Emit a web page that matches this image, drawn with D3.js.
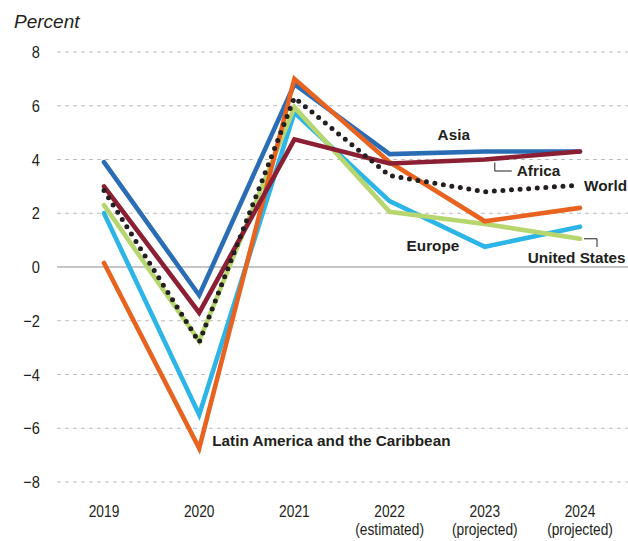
<!DOCTYPE html>
<html>
<head>
<meta charset="utf-8">
<script src="https://cdn.jsdelivr.net/npm/d3@7"></script>
<style>
  body { margin: 0; background: #fff; }
  svg text { fill: #231f20; }
  .tick-label { font-family: "Liberation Sans", Arial, sans-serif; font-size: 16px; }
  .series-label { font-family: "Liberation Sans", Arial, sans-serif; font-size: 15.3px; font-weight: 600; }
</style>
</head>
<body>
<div id="viz"></div>
<script>
var w = 628;
var h = 541;

var years = ["2019", "2020", "2021", "2022", "2023", "2024"];
var yearNotes = ["", "", "", "(estimated)", "(projected)", "(projected)"];
var yTicks = [-8, -6, -4, -2, 0, 2, 4, 6, 8];

var asia = [3.9, -1.05, 6.8, 4.2, 4.3, 4.3];
var europe = [2.0, -5.5, 5.75, 2.45, 0.75, 1.5];
var usa = [2.3, -2.75, 5.95, 2.05, 1.6, 1.05];
var latAm = [0.15, -6.75, 7.0, 3.9, 1.7, 2.2];
var africa = [3.0, -1.7, 4.75, 3.85, 4.0, 4.3];
var world = [2.85, -2.8, 6.3, 3.4, 2.8, 3.05];

var seriesNames = ["Asia", "Europe", "United States", "Latin America and the Caribbean", "Africa", "World"];
var seriesValues = [asia, europe, usa, latAm, africa, world];
var seriesColors = ["#2a6db5", "#2db5e8", "#b7d66f", "#e8631f", "#8b1f33", "#231f20"];

var narrow = 0.86; // condensed look for axis text

var x = d3.scalePoint()
    .domain(years)
    .range([104, 580]);

var y = d3.scaleLinear()
    .domain([-8, 8])
    .range([482, 52]);

var svg = d3.select("#viz")
    .append("svg")
    .attr("width", w)
    .attr("height", h);

// y axis label
svg.append("text")
    .attr("x", 14)
    .attr("y", 28)
    .style("font-family", "'Liberation Sans', Arial, sans-serif")
    .style("font-size", "19px")
    .style("font-style", "italic")
    .text("Percent");

// grid
var grid = svg.append("g").attr("class", "grid");

grid.selectAll("line")
    .data(yTicks)
    .enter()
    .append("line")
    .attr("x1", 57)
    .attr("x2", w)
    .attr("y1", function (d) { return y(d); })
    .attr("y2", function (d) { return y(d); })
    .attr("stroke", function (d) { return d == 0 ? "#b3b3b3" : "#bdbdbd"; })
    .attr("stroke-width", function (d) { return d == 0 ? 1.6 : 1.1; })
    .attr("stroke-dasharray", function (d) { return d == 0 ? null : "4,4"; });

grid.selectAll("text")
    .data(yTicks)
    .enter()
    .append("text")
    .attr("class", "tick-label")
    .attr("transform", function (d) { return "translate(40," + y(d) + ") scale(" + narrow + ",1)"; })
    .attr("dy", "0.36em")
    .attr("text-anchor", "end")
    .style("font-size", "17px")
    .text(function (d) { return d < 0 ? "\u2212" + Math.abs(d) : d; });

// x labels
var xl = svg.append("g").attr("class", "xlabels");

xl.selectAll("text.year")
    .data(years)
    .enter()
    .append("text")
    .attr("class", "tick-label year")
    .attr("transform", function (d) { return "translate(" + x(d) + ",517) scale(" + narrow + ",1)"; })
    .attr("text-anchor", "middle")
    .text(function (d) { return d; });

xl.selectAll("text.note")
    .data(years)
    .enter()
    .append("text")
    .attr("class", "tick-label note")
    .attr("transform", function (d) { return "translate(" + x(d) + ",535) scale(" + narrow + ",1)"; })
    .attr("text-anchor", "middle")
    .text(function (d, i) { return yearNotes[i]; });

// lines
var line = d3.line()
    .x(function (d, i) { return x(years[i]); })
    .y(function (d) { return y(d); });

var lines = svg.append("g").attr("class", "lines");

lines.selectAll("path")
    .data(seriesValues)
    .enter()
    .append("path")
    .attr("d", function (d) { return line(d); })
    .attr("fill", "none")
    .attr("stroke", function (d, i) { return seriesColors[i]; })
    .attr("stroke-width", function (d, i) { return i == 5 ? 5 : 4.6; })
    .attr("stroke-linejoin", "miter")
    .attr("stroke-linecap", "round")
    .attr("stroke-dasharray", function (d, i) { return i == 5 ? "0,8.6" : null; });

// labels
var labels = svg.append("g").attr("class", "labels");

function label(name, lx, ly) {
    labels.append("text")
        .attr("class", "series-label")
        .attr("x", lx)
        .attr("y", ly)
        .text(name);
}

label("Asia", x("2022") + 48, y(asia[3]) - 14);
label("Africa", x("2023") + 32, y(africa[3]) + 12);
label("World", x("2024") + 4, y(world[5]) + 6);
label("Europe", x("2022") + 17, y(europe[4]) + 4);
label("United States", x("2023") + 43, y(0) - 4);
label("Latin America and the Caribbean", x("2020") + 13, y(latAm[1]) - 2);

// leader lines
var leaders = [
    [[x("2023") + 10, y(africa[4]) + 3], [x("2023") + 10, 171], [x("2023") + 27, 171]],
    [[x("2024") + 4, y(usa[5])], [x("2024") + 17, y(usa[5])], [x("2024") + 17, 247]]
];

labels.selectAll("path")
    .data(leaders)
    .enter()
    .append("path")
    .attr("d", d3.line())
    .attr("fill", "none")
    .attr("stroke", "#231f20")
    .attr("stroke-width", 1);
</script>
</body>
</html>
